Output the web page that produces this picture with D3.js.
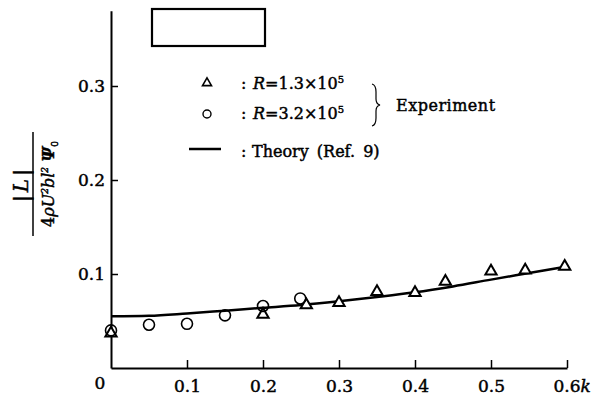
<!DOCTYPE html>
<html><head><meta charset="utf-8">
<script src="https://cdn.jsdelivr.net/npm/d3@7"></script>
<style>body{margin:0;background:#fff}svg{display:block}text{font-family:"DejaVu Serif","Liberation Serif",serif;fill:#000;stroke:#000;stroke-width:0.45px}</style>
</head><body><svg id="c" width="592" height="396"></svg>
<script>
// Data
const xTicks = [0.1, 0.2, 0.3, 0.4, 0.5, 0.6];
const yTicks = [0.1, 0.2, 0.3];
const triK = [0, 0.2, 0.257, 0.3, 0.35, 0.4, 0.44, 0.5, 0.545, 0.597];
const triL = [0.037, 0.057, 0.067, 0.0695, 0.081, 0.080, 0.092, 0.103, 0.104, 0.108];
const circK = [0, 0.05, 0.1, 0.15, 0.2, 0.249];
const circL = [0.040, 0.046, 0.047, 0.056, 0.066, 0.074];
const theoryK = [0, 0.05, 0.1, 0.15, 0.2, 0.25, 0.3, 0.35, 0.4, 0.45, 0.5, 0.55, 0.6];
const theoryL = [0.055, 0.0555, 0.058, 0.061, 0.064, 0.067, 0.071, 0.0755, 0.0805, 0.0868, 0.094, 0.101, 0.108];

const svg = d3.select("#c");
const x = d3.scaleLinear().domain([0, 0.6]).range([111, 567]);
const y = d3.scaleLinear().domain([0, 0.38]).range([368, 10.8]);

// axes
const gx = svg.append("g").attr("transform", `translate(0,${y(0)})`)
  .call(d3.axisBottom(x).tickValues(xTicks).tickSize(-8).tickSizeOuter(0).tickPadding(12).tickFormat(d3.format(".1f")));
const gy = svg.append("g").attr("transform", `translate(${x(0)},0)`)
  .call(d3.axisLeft(y).tickValues(yTicks).tickSize(-7).tickSizeOuter(0).tickPadding(6).tickFormat(d3.format(".1f")));
[gx, gy].forEach(g => {
  g.select(".domain").attr("stroke", "#000").attr("stroke-width", 2);
  g.selectAll(".tick line").attr("stroke", "#000").attr("stroke-width", 1.5);
  g.selectAll(".tick text").attr("font-size", 17).attr("font-family", "DejaVu Serif").attr("fill", "#000");
});
// last x label "0.6k"
const last = gx.selectAll(".tick text").filter(d => d === 0.6);
last.attr("text-anchor", "start").attr("x", -14).text("0.6");
last.append("tspan").attr("font-style", "italic").text("k");
// origin label
svg.append("text").attr("x", x(0) - 11).attr("y", y(0) + 21).attr("text-anchor", "middle").attr("font-size", 17).text("0");

// theory curve
const line = d3.line().x((d, i) => x(theoryK[i])).y((d, i) => y(theoryL[i])).curve(d3.curveMonotoneX);
svg.append("path").datum(theoryL).attr("d", line).attr("fill", "none").attr("stroke", "#000").attr("stroke-width", 2.5);

// markers
const tri = d3.symbol().type(d3.symbolTriangle).size(55);
svg.selectAll(".tri").data(triK).join("path").attr("class", "tri")
  .attr("d", tri).attr("transform", (d, i) => `translate(${x(d)},${y(triL[i])})`)
  .attr("fill", "#fff").attr("stroke", "#000").attr("stroke-width", 2);
svg.selectAll(".circ").data(circK).join("circle").attr("class", "circ")
  .attr("cx", d => x(d)).attr("cy", (d, i) => y(circL[i])).attr("r", 5.5)
  .attr("fill", "none").attr("stroke", "#000").attr("stroke-width", 1.6);

// top empty box
svg.append("rect").attr("x", 152).attr("y", 9).attr("width", 113).attr("height", 37)
  .attr("fill", "none").attr("stroke", "#000").attr("stroke-width", 2.2);

// legend
svg.append("path").attr("d", d3.symbol().type(d3.symbolTriangle).size(35)()).attr("transform", "translate(207,83)")
  .attr("fill", "none").attr("stroke", "#000").attr("stroke-width", 1.6);
svg.append("circle").attr("cx", 207).attr("cy", 114).attr("r", 4).attr("fill", "none").attr("stroke", "#000").attr("stroke-width", 1.4);
function colon(yy) {
  svg.append("text").attr("x", 241).attr("y", yy).attr("font-size", 16).text(":");
}
function rText(yy, val) {
  colon(yy);
  const t = svg.append("text").attr("x", 253).attr("y", yy).attr("font-size", 16);
  t.append("tspan").attr("font-style", "italic").text("R");
  t.append("tspan").text("=" + val + "×10");
  t.append("tspan").attr("font-size", 10).attr("dy", -6).text("5");
}
rText(89, "1.3");
rText(119, "3.2");
svg.append("path").attr("d", "M372,84 Q376,85 376,92 L376,99 Q376,104 380,105 Q376,106 376,111 L376,118 Q376,125 372,126")
  .attr("fill", "none").attr("stroke", "#000").attr("stroke-width", 1.2);
svg.append("text").attr("x", 396).attr("y", 111).attr("font-size", 16).attr("letter-spacing", 0.5).text("Experiment");
svg.append("line").attr("x1", 189).attr("x2", 221).attr("y1", 149).attr("y2", 149).attr("stroke", "#000").attr("stroke-width", 2.5);
colon(157);
svg.append("text").attr("x", 252).attr("y", 157).attr("font-size", 16).attr("word-spacing", 3).text("Theory (Ref. 9)");

// y label (rotated fraction)
const yl = svg.append("g").attr("transform", "translate(33,184) rotate(-90)");
yl.append("line").attr("x1", -52).attr("x2", 52).attr("y1", 0).attr("y2", 0).attr("stroke", "#000").attr("stroke-width", 1.5);
yl.append("text").attr("x", 0).attr("y", -5).attr("text-anchor", "middle").attr("font-size", 20).attr("letter-spacing", 3)
  .html('|<tspan font-style="italic">L</tspan>|');
const den = yl.append("text").attr("x", 0).attr("y", 21).attr("text-anchor", "middle").attr("font-size", 16).attr("font-style", "italic");
den.append("tspan").attr("font-style", "normal").text("4");
den.append("tspan").text("ρU");
den.append("tspan").attr("font-size", 9).attr("dy", -6).text("2");
den.append("tspan").attr("dy", 6).text("bl");
den.append("tspan").attr("font-size", 9).attr("dy", -6).text("2");
den.append("tspan").attr("dy", 6).attr("font-weight", "bold").text(" Ψ");
den.append("tspan").attr("font-size", 9).attr("dy", 4).attr("font-style", "normal").text("0");
</script></body></html>
